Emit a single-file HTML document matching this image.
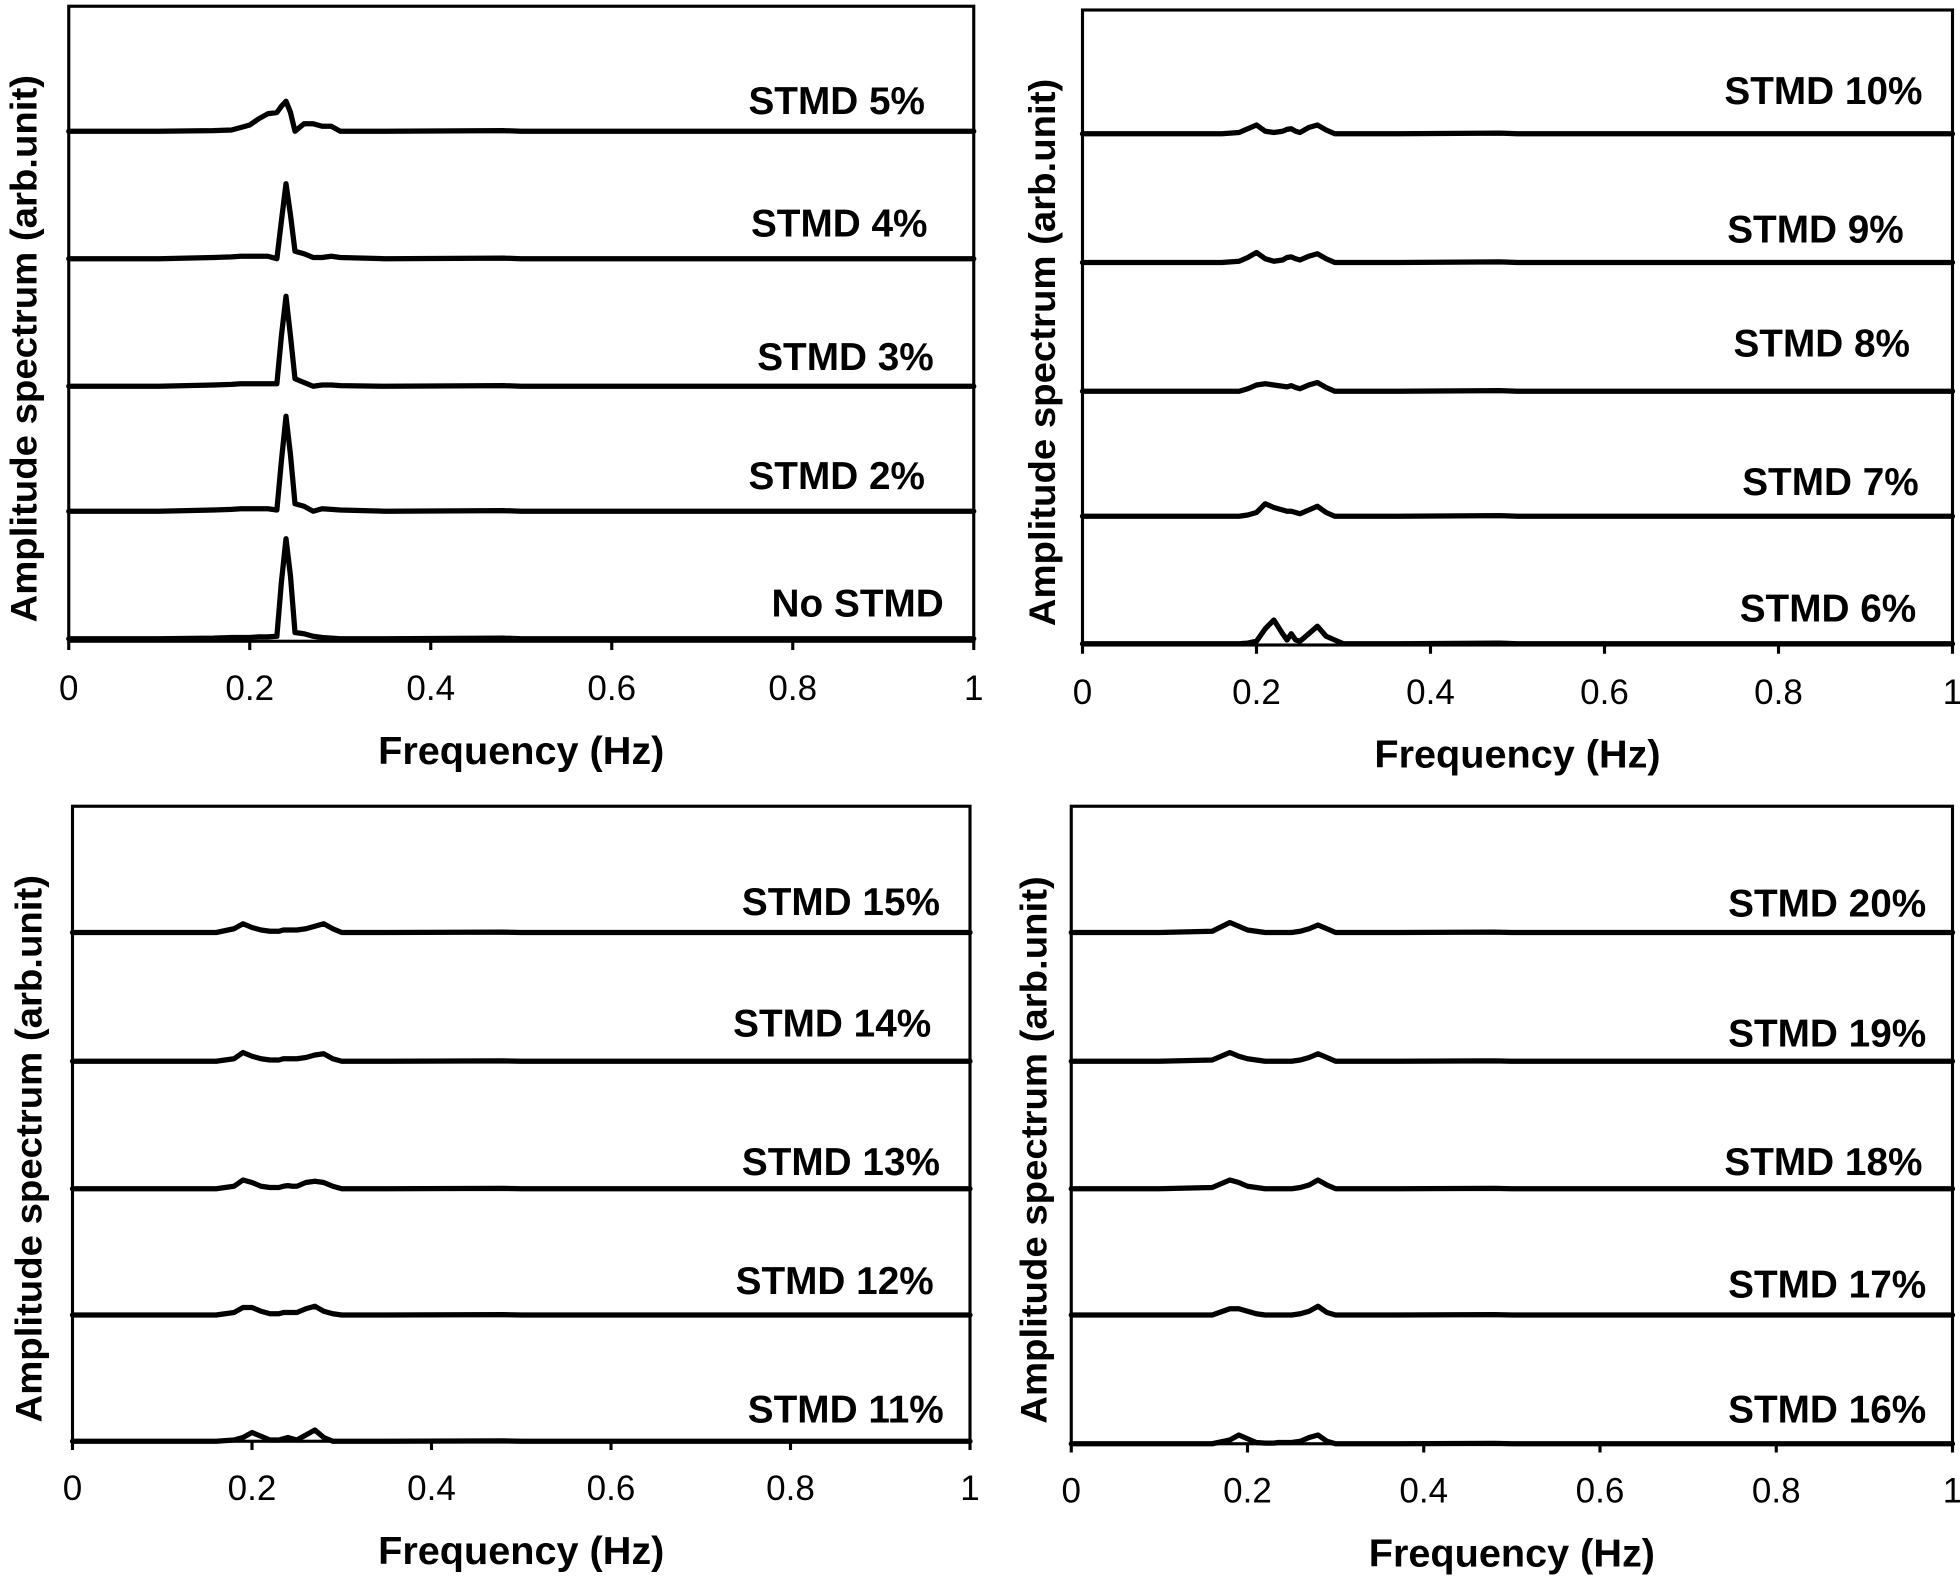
<!DOCTYPE html>
<html><head><meta charset="utf-8"><style>
html,body{margin:0;padding:0;background:#fff}
svg{display:block}
text{font-family:"Liberation Sans",Arial,sans-serif;fill:#000}
</style></head><body>
<svg id="chart" width="1960" height="1579" viewBox="0 0 1568 1263.2" xmlns="http://www.w3.org/2000/svg"></svg>
<script>
const freqs = [0,0.1,0.16,0.18,0.19,0.2,0.21,0.22,0.23,0.235,0.24,0.245,0.25,0.26,0.27,0.28,0.29,0.3,0.35,0.48,0.5,1];
const tickLabels = ["0","0.2","0.4","0.6","0.8","1"];
const tickValues = [0,0.2,0.4,0.6,0.8,1];
const noSTMD = [0,0,0.005,0.01,0.01,0.01,0.015,0.015,0.02,0.45,0.8,0.5,0.05,0.04,0.02,0.01,0.005,0,0,0.005,0,0];
const s2 = [0,0,0.01,0.015,0.02,0.02,0.02,0.02,0.01,0.4,0.76,0.45,0.06,0.04,0,0.02,0.015,0.01,0,0.005,0,0];
const s3 = [0,0,0.01,0.015,0.02,0.02,0.02,0.02,0.02,0.4,0.72,0.4,0.06,0.03,0,0.01,0.01,0.005,0,0.005,0,0];
const s4 = [0,0,0.01,0.015,0.02,0.02,0.02,0.02,0,0.3,0.6,0.35,0.06,0.04,0.01,0.01,0.02,0.01,0,0.005,0,0];
const s5 = [0,0,0.005,0.01,0.03,0.05,0.1,0.14,0.15,0.2,0.24,0.15,0,0.06,0.06,0.04,0.04,0,0,0.005,0,0];
const s6 = [0,0,0,0,0.005,0.02,0.12,0.19,0.08,0.03,0.08,0.03,0.02,0.08,0.14,0.06,0.03,0,0,0.005,0,0];
const s7 = [0,0,0,0,0.01,0.03,0.1,0.07,0.05,0.04,0.04,0.03,0.02,0.05,0.08,0.03,0,0,0,0.005,0,0];
const s8 = [0,0,0,0,0.02,0.05,0.06,0.05,0.04,0.035,0.045,0.03,0.02,0.05,0.07,0.03,0,0,0,0.005,0,0];
const s9 = [0,0,0,0.01,0.04,0.08,0.03,0.01,0.02,0.04,0.045,0.03,0.02,0.05,0.07,0.03,0,0,0,0.005,0,0];
const s10 = [0,0,0,0.01,0.04,0.07,0.02,0.01,0.02,0.035,0.04,0.02,0.01,0.05,0.07,0.03,0,0,0,0.005,0,0];
const s11 = [0,0,0,0.01,0.03,0.07,0.04,0.01,0.01,0.02,0.03,0.02,0.01,0.05,0.09,0.03,0,0,0,0.003,0,0];
const s12 = [0,0,0,0.02,0.06,0.06,0.03,0.01,0.01,0.02,0.02,0.02,0.02,0.05,0.07,0.03,0.01,0,0,0.003,0,0];
const s13 = [0,0,0,0.02,0.07,0.05,0.02,0.01,0.01,0.02,0.025,0.02,0.02,0.05,0.06,0.05,0.02,0,0,0.003,0,0];
const s14 = [0,0,0,0.02,0.07,0.04,0.02,0.01,0.01,0.02,0.02,0.02,0.02,0.03,0.05,0.06,0.02,0,0,0.003,0,0];
const s15 = [0,0,0,0.03,0.07,0.04,0.02,0.01,0.01,0.02,0.02,0.02,0.02,0.03,0.05,0.07,0.03,0,0,0.003,0,0];
const s16 = [0,0,0,0.03,0.07,0.04,0.01,0.005,0.005,0.01,0.01,0.01,0.01,0.02,0.05,0.07,0.02,0,0,0.003,0,0];
const s17 = [0,0,0,0.05,0.05,0.03,0.01,0,0,0,0,0,0,0.01,0.03,0.07,0.02,0,0,0.003,0,0];
const s18 = [0,0,0.01,0.07,0.05,0.02,0.01,0,0,0,0,0,0,0.01,0.03,0.07,0.03,0,0,0.003,0,0];
const s19 = [0,0,0.01,0.07,0.04,0.02,0.01,0,0,0,0,0,0,0.01,0.03,0.06,0.03,0,0,0.003,0,0];
const s20 = [0,0,0.01,0.08,0.05,0.02,0.01,0,0,0,0,0,0,0.01,0.03,0.06,0.03,0,0,0.003,0,0];

const NS = "http://www.w3.org/2000/svg";
const svg = document.getElementById('chart');
function mk(tag, attrs, parent){const e=document.createElementNS(NS,tag);for(const k in attrs)e.setAttribute(k,attrs[k]);(parent||svg).appendChild(e);return e;}

const panels = [
 {id:'top-left',x0:55,x1:779,y0:5,y1:513,ytx:18,tickY:550,titleY:600,
  series:[[s5,105,'STMD 5%',740,80],[s4,207,'STMD 4%',742,178],[s3,309,'STMD 3%',747,285],[s2,409,'STMD 2%',740,380],[noSTMD,511,'No STMD',755,482]]},
 {id:'top-right',x0:866,x1:1562,y0:8,y1:516,ytx:833,tickY:553,titleY:603,
  series:[[s10,107,'STMD 10%',1538,72],[s9,210,'STMD 9%',1523,183],[s8,313,'STMD 8%',1528,274],[s7,413,'STMD 7%',1535,385],[s6,515,'STMD 6%',1533,486]]},
 {id:'bottom-left',x0:58,x1:776,y0:645,y1:1153,ytx:22,tickY:1190,titleY:1240,
  series:[[s15,746,'STMD 15%',752,721],[s14,849,'STMD 14%',745,818],[s13,951,'STMD 13%',752,929],[s12,1052,'STMD 12%',747,1024],[s11,1153,'STMD 11%',755,1127]]},
 {id:'bottom-right',x0:857,x1:1562,y0:645,y1:1155,ytx:826,tickY:1192,titleY:1242,
  series:[[s20,746,'STMD 20%',1541,722],[s19,849,'STMD 19%',1541,826],[s18,951,'STMD 18%',1538,929],[s17,1052,'STMD 17%',1541,1027],[s16,1155,'STMD 16%',1541,1127]]}
];

panels.forEach(p=>{
  const g = mk('g',{});
  
  
  const xs = f => p.x0 + f*(p.x1-p.x0);
  const ys = (base,a) => base - a*100;
  const fr = mk('rect',{x:p.x0,y:p.y0,width:p.x1-p.x0,height:p.y1-p.y0,fill:'none',stroke:'#000','stroke-width':2.5},g);
  
  
  tickValues.forEach((v,i)=>{
    const t = mk('line',{x1:xs(v),x2:xs(v),y1:p.y1,y2:p.y1+7,stroke:'#000','stroke-width':2.5},g);
    
    
    const tl = mk('text',{x:xs(v),y:p.tickY+10,'text-anchor':'middle','font-size':28},g);
    
    
    tl.textContent = tickLabels[i];
  });
  const xt = mk('text',{x:(p.x0+p.x1)/2,y:p.titleY+11,'text-anchor':'middle','font-size':31,'font-weight':'bold',textLength:229,lengthAdjust:'spacingAndGlyphs'},g);
  
  
  xt.textContent = 'Frequency (Hz)';
  const cy = (p.y0+p.y1)/2 + 20;
  const yt = mk('text',{x:p.ytx+11,y:cy,'text-anchor':'middle','font-size':30,'font-weight':'bold',textLength:438,lengthAdjust:'spacingAndGlyphs',transform:`rotate(-90 ${p.ytx+11} ${cy})`},g);
  
  
  yt.textContent = 'Amplitude spectrum (arb.unit)';
  p.series.forEach(s=>{
    const [vals,base,label,lx,ly] = s;
    const d = freqs.map((f,i)=>(i?'L':'M')+xs(f).toFixed(1)+' '+ys(base,vals[i]).toFixed(1)).join(' ');
    const path = mk('path',{d:d,fill:'none',stroke:'#000','stroke-width':4.2,'stroke-linejoin':'round','stroke-linecap':'round'},g);
    
    
    const tx = mk('text',{x:lx,y:ly+11,'text-anchor':'end','font-size':31,'font-weight':'bold'},g);
    
    
    tx.textContent = label;
  });
});
</script>
</body></html>
